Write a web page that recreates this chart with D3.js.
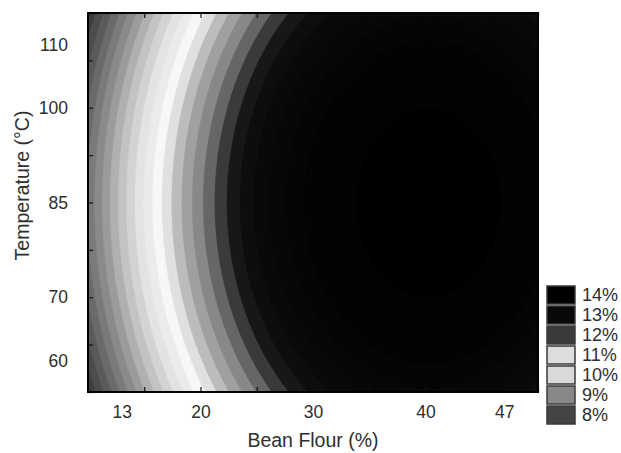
<!DOCTYPE html>
<html>
<head>
<meta charset="utf-8">
<script src="https://cdn.jsdelivr.net/npm/d3@7"></script>
<style>
  html, body { margin: 0; padding: 0; background: #fff; }
  svg { display: block; font-family: "Liberation Sans", Arial, Helvetica, sans-serif; }
</style>
</head>
<body>
<svg id="chart" width="621" height="453"></svg>
<script>
// Bean flour (%): labelled design levels and tick positions
const beanFlourLabels = [13, 20, 30, 40, 47];
const beanFlourTicks = [10, 15, 20, 25, 30, 35, 40, 45, 50];
const beanFlourDomain = [10, 50];

// Temperature (°C): labelled design levels and tick positions
const temperatureLabels = [60, 70, 85, 100, 110];
const temperatureTicks = [55, 62.5, 70, 77.5, 85, 92.5, 100, 107.5, 115];
const temperatureDomain = [55, 115];

// Fitted quadratic response surface (moisture, %):
// z = b0 + bF*F + bT*T + bFF*F^2 + bTT*T^2 + bFT*F*T
const surfaceCoefficients = [-0.5834, 0.4025, 0.15725, -0.005, -0.000925, 0];

// Contour levels (%) and the grey used for each band above a level
const contourLevels = [8.6, 8.8, 9.0, 9.2, 9.4, 9.6, 9.8, 10.0, 10.2, 10.4, 10.6, 10.8,
  11.0, 11.2, 11.4, 11.6, 11.8, 12.0, 12.2, 12.4, 12.6, 12.8, 13.0, 13.2, 13.4, 13.6, 13.8, 14.0];
const bandGreys = ["#363636", "#3e3e3e", "#4c4c4c", "#5a5a5a", "#6a6a6a", "#7a7a7a", "#8a8a8a",
  "#9b9b9b", "#b0b0b0", "#c3c3c3", "#d3d3d3", "#e3e3e3", "#ebebeb", "#f7f7f7", "#e0e0e0",
  "#bcbcbc", "#a0a0a0", "#888888", "#666666", "#3a3a3a", "#171717", "#0d0d0d", "#090909",
  "#070707", "#050505", "#030303", "#020202", "#000000"];

// Legend entries
const legendLabels = ["14%", "13%", "12%", "11%", "10%", "9%", "8%"];
const legendGreys = ["#000000", "#090909", "#3a3a3a", "#dddddd", "#d9d9d9", "#888888", "#444444"];

const svg = d3.select("#chart");
const plot = { left: 88, top: 13, width: 450, height: 379 };

const x = d3.scaleLinear().domain(beanFlourDomain).range([plot.left, plot.left + plot.width]);
const y = d3.scaleLinear().domain(temperatureDomain).range([plot.top + plot.height, plot.top]);

function surface(f, t) {
  const [b0, bF, bT, bFF, bTT, bFT] = surfaceCoefficients;
  return b0 + bF * f + bT * t + bFF * f * f + bTT * t * t + bFT * f * t;
}

// Sample the surface on a grid covering the plot, row 0 at the top
const nx = 450, ny = 380;
const gridF = d3.scaleLinear().domain([0, nx]).range(beanFlourDomain);
const gridT = d3.scaleLinear().domain([0, ny]).range([temperatureDomain[1], temperatureDomain[0]]);
const values = new Float64Array(nx * ny);
for (let j = 0; j < ny; j++) {
  for (let i = 0; i < nx; i++) {
    values[j * nx + i] = surface(gridF(i + 0.5), gridT(j + 0.5));
  }
}

const bands = d3.contours().size([nx, ny]).thresholds(contourLevels)(values);

const toScreen = d3.geoTransform({
  point(gx, gy) { this.stream.point(x(gridF(gx)), y(gridT(gy))); }
});
const path = d3.geoPath(toScreen);

svg.append("defs").append("clipPath").attr("id", "plot-clip")
  .append("rect")
  .attr("x", plot.left).attr("y", plot.top)
  .attr("width", plot.width).attr("height", plot.height);

svg.append("g")
  .attr("clip-path", "url(#plot-clip)")
  .selectAll("path")
  .data(bands)
  .join("path")
  .attr("d", path)
  .attr("fill", (d, i) => bandGreys[i])
  .attr("stroke", (d, i) => bandGreys[i])
  .attr("stroke-width", 0.4);

// Inward tick marks on every side
const tickLen = 5;
function tickMarks(axis, transform) {
  const g = svg.append("g").attr("transform", transform).call(axis);
  g.select(".domain").remove();
  g.selectAll("line").attr("stroke", "#111").attr("stroke-width", 1.2);
  return g;
}
tickMarks(d3.axisBottom(x).tickValues(beanFlourTicks).tickSize(-tickLen).tickFormat(""),
  `translate(0,${plot.top + plot.height})`);
tickMarks(d3.axisTop(x).tickValues(beanFlourTicks).tickSize(-tickLen).tickFormat(""),
  `translate(0,${plot.top})`);
tickMarks(d3.axisLeft(y).tickValues(temperatureTicks).tickSize(-tickLen).tickFormat(""),
  `translate(${plot.left},0)`);

// Frame
svg.append("rect")
  .attr("x", plot.left).attr("y", plot.top)
  .attr("width", plot.width).attr("height", plot.height)
  .attr("fill", "none").attr("stroke", "#000").attr("stroke-width", 2);

// Tick labels at the design levels
const labelColor = "#2e2e2e";
const xLabels = svg.append("g")
  .attr("transform", `translate(0,${plot.top + plot.height})`)
  .call(d3.axisBottom(x).tickValues(beanFlourLabels).tickSize(0).tickPadding(14));
xLabels.select(".domain").remove();
xLabels.selectAll("text").attr("font-size", 17.5).attr("fill", labelColor)
  .attr("font-family", "Liberation Sans, Arial, sans-serif");

const yLabels = svg.append("g")
  .attr("transform", `translate(${plot.left},0)`)
  .call(d3.axisLeft(y).tickValues(temperatureLabels).tickSize(0).tickPadding(20));
yLabels.select(".domain").remove();
yLabels.selectAll("text").attr("font-size", 17.5).attr("fill", labelColor)
  .attr("font-family", "Liberation Sans, Arial, sans-serif");

// Axis titles
svg.append("text")
  .attr("x", plot.left + plot.width / 2).attr("y", 447)
  .attr("text-anchor", "middle")
  .attr("font-size", 19.5).attr("fill", labelColor)
  .text("Bean Flour (%)");

svg.append("text")
  .attr("transform", `translate(29,${plot.top + plot.height / 2 - 17}) rotate(-90)`)
  .attr("text-anchor", "middle")
  .attr("font-size", 19.5).attr("fill", labelColor)
  .text("Temperature (°C)");

// Legend
const legend = svg.append("g").attr("transform", "translate(547,286)");
const item = legend.selectAll("g")
  .data(legendLabels)
  .join("g")
  .attr("transform", (d, i) => `translate(0,${i * 20})`);
item.append("rect")
  .attr("width", 28).attr("height", 18)
  .attr("fill", (d, i) => legendGreys[i])
  .attr("stroke", "#3a3a3a").attr("stroke-width", 1.5);
item.append("text")
  .attr("x", 35).attr("y", 9).attr("dy", "0.36em")
  .attr("font-size", 18).attr("fill", labelColor)
  .text(d => d);
</script>
</body>
</html>
